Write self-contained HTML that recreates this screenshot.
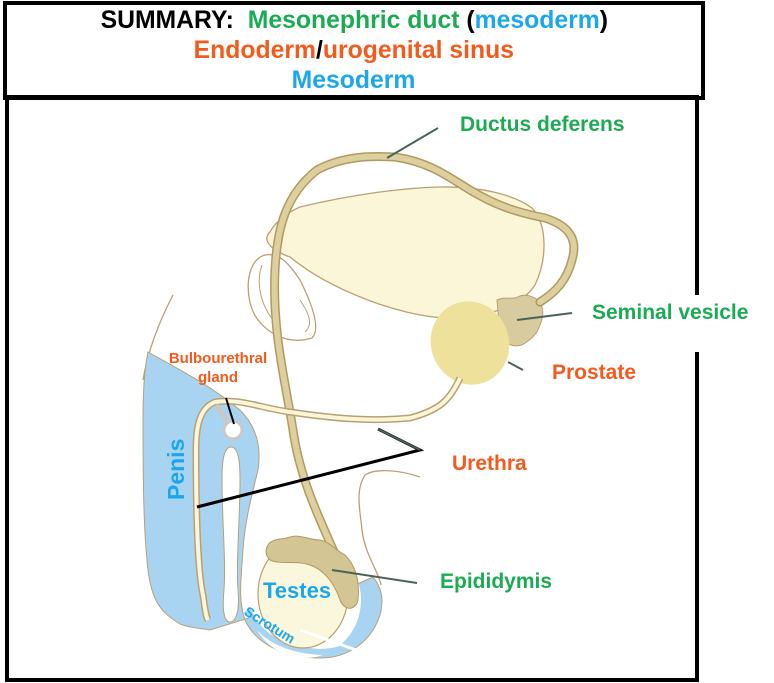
<!DOCTYPE html>
<html><head><meta charset="utf-8"><style>
html,body{margin:0;padding:0;background:#fff;}
body{width:774px;height:683px;position:relative;overflow:hidden;font-family:"Liberation Sans",Arial,sans-serif;}
.t{position:absolute;font-weight:bold;white-space:nowrap;}
</style></head><body>
<svg width="774" height="683" style="position:absolute;left:0;top:0">
<rect x="5" y="3" width="698" height="95" fill="none" stroke="#000" stroke-width="4"/>
<polyline points="697,295 697,97 7,97 7,680 697,680 697,352" fill="none" stroke="#000" stroke-width="4"/>

<path d="M173,295 C160,320 148,350 143,380" fill="none" stroke="#b9a074" stroke-width="1.3"/>
<path d="M420,477 C400,470 375,468 365,475 C355,490 360,510 362,530 C365,555 378,570 381,585" fill="none" stroke="#b9a074" stroke-width="1.3"/>

<path d="M300,207 C350,195 400,188 440,187 C480,186 515,195 532,208 C548,225 547,260 535,285 C522,305 490,318 445,318 C400,316 330,290 290,257 C270,250 262,240 270,232 C275,222 288,212 300,207Z" fill="#fbf6d8" stroke="#b9a074" stroke-width="1.3"/>
<path d="M265,255 C245,260 243,300 258,320 C270,335 290,345 312,338 C322,328 310,300 300,280 C290,265 280,252 265,255Z" fill="#fff" stroke="#b9a074" stroke-width="1.3"/>
<path d="M262,265 C255,285 262,310 278,325 M300,300 C310,315 313,325 305,332" fill="none" stroke="#b9a074" stroke-width="1"/>

<path d="M497,300 C505,296 512,300 518,297 C525,293 532,296 538,300 C545,308 543,318 540,325 C537,335 530,340 522,345 C512,348 505,343 500,335 Z" fill="#d8cba0" stroke="#b9a074" stroke-width="1"/>

<path d="M340,565 C320,520 300,480 293,430 C285,380 272,330 275,270 C277,230 285,195 317,170 C345,155 375,156 395,157 C430,162 450,178 470,190 C495,205 515,212 545,218 C570,226 578,240 572,260 C567,280 556,292 540,302" fill="none" stroke="#b09a60" stroke-width="9" stroke-linecap="round"/>
<path d="M340,565 C320,520 300,480 293,430 C285,380 272,330 275,270 C277,230 285,195 317,170 C345,155 375,156 395,157 C430,162 450,178 470,190 C495,205 515,212 545,218 C570,226 578,240 572,260 C567,280 556,292 540,302" fill="none" stroke="#ddcf9e" stroke-width="6" stroke-linecap="round"/>

<ellipse cx="470" cy="343" rx="39" ry="42" transform="rotate(-20 470 343)" fill="#ede19c"/>
<line x1="508" y1="362" x2="523" y2="370" stroke="#4a6358" stroke-width="2"/>

<path d="M148,352 C180,370 210,385 240,410 C255,425 262,445 258,470 C252,495 245,520 243,550 C241,580 238,600 245,620 C255,642 280,657 320,658 C350,658 372,640 380,615 C384,600 382,588 373,577 L355,585 L210,630 C200,628 190,628 180,624 C160,612 150,600 147,560 C143,520 143,460 143,420 C143,395 144,370 148,352Z" fill="#a8d4f2" stroke="#b9a074" stroke-width="1"/>
<ellipse cx="305" cy="600" rx="56" ry="58" fill="#fff"/>
<path d="M248,610 C260,640 290,650 320,652 C345,652 360,640 370,625" fill="none" stroke="#a8d4f2" stroke-width="6"/>
<path d="M231,447 C238,447 240,460 240,480 C240,520 236,560 238,590 C240,610 236,622 230,622 C224,622 222,610 224,590 C226,560 222,520 222,480 C222,460 224,447 231,447Z" fill="#fff" stroke="#b9a074" stroke-width="1"/>

<path d="M460,378 C450,400 440,410 410,418 C370,422 330,418 290,412 C260,408 240,398 215,402 C200,408 196,425 196,450 C196,500 197,560 202,590 C205,605 205,615 208,620" fill="none" stroke="#b9a074" stroke-width="7"/>
<path d="M460,378 C450,400 440,410 410,418 C370,422 330,418 290,412 C260,408 240,398 215,402 C200,408 196,425 196,450 C196,500 197,560 202,590 C205,605 205,615 208,620" fill="none" stroke="#fbf6d8" stroke-width="4"/>

<line x1="216" y1="405" x2="230" y2="425" stroke="#c8c8c8" stroke-width="5"/>
<circle cx="233" cy="430" r="9" fill="#fff" stroke="#c8c8c8" stroke-width="3"/>
<line x1="226" y1="398" x2="234" y2="424" stroke="#000" stroke-width="2"/>

<ellipse cx="303" cy="594" rx="45" ry="54" fill="#fbf7dc" stroke="#b9a074" stroke-width="1.2"/>
<path d="M268,545 C272,538 282,540 290,537 C300,534 310,540 320,540 C330,542 335,550 345,555 C355,565 360,580 358,600 C356,610 345,612 340,600 C335,585 325,570 310,565 C295,560 280,565 270,560 C265,555 265,550 268,545Z" fill="#d4c595" stroke="#b09a60" stroke-width="1"/>
<line x1="332" y1="570" x2="417" y2="583" stroke="#4a6358" stroke-width="2"/>
<line x1="300" y1="630" x2="370" y2="655" stroke="#fff" stroke-width="3"/>

<line x1="387" y1="158" x2="438" y2="128" stroke="#4a6358" stroke-width="2"/>
<line x1="517" y1="320" x2="572" y2="313" stroke="#4a6358" stroke-width="2"/>
<polyline points="378,429 420,450 197,507" fill="none" stroke="#000" stroke-width="3"/>
<line x1="378" y1="429" x2="420" y2="450" stroke="#4a6358" stroke-width="2"/>

<text x="184" y="500" transform="rotate(-90 184 500)" font-family="Liberation Sans" font-weight="bold" font-size="23" fill="#1ca6ec">Penis</text>
<text x="243" y="614" transform="rotate(32 243 614)" font-family="Liberation Sans" font-weight="bold" font-size="14" fill="#1ca6ec">Scrotum</text>
</svg>

<div class="t" style="left:0;width:708px;top:5px;text-align:center;font-size:25px;line-height:30px;">
<span style="display:inline-block;transform:scaleX(0.99)"><span style="color:#000">SUMMARY:</span>&nbsp; <span style="color:#1bab52">Mesonephric duct</span> <span style="color:#000">(</span><span style="color:#1ca6ec">mesoderm</span><span style="color:#000">)</span></span></div>
<div class="t" style="left:0;width:708px;top:35px;text-align:center;font-size:25px;line-height:30px;">
<span style="display:inline-block;transform:scaleX(0.99)"><span style="color:#f35a1c">Endoderm</span><span style="color:#000">/</span><span style="color:#f35a1c">urogenital sinus</span></span></div>
<div class="t" style="left:0;width:708px;top:65px;text-align:center;font-size:25px;line-height:30px;color:#1ca6ec">
<span style="display:inline-block;transform:scaleX(0.99)">Mesoderm</span></div>

<div class="t" style="left:460px;top:113px;font-size:21px;color:#1bab52">Ductus deferens</div>
<div class="t" style="left:592px;top:301px;font-size:21px;color:#1bab52">Seminal vesicle</div>
<div class="t" style="left:552px;top:361px;font-size:21px;color:#f35a1c">Prostate</div>
<div class="t" style="left:452px;top:452px;font-size:21px;color:#f35a1c">Urethra</div>
<div class="t" style="left:440px;top:570px;font-size:21px;color:#1bab52">Epididymis</div>
<div class="t" style="left:158px;top:349px;width:120px;text-align:center;font-size:15px;line-height:19px;color:#f35a1c">Bulbourethral<br>gland</div>
<div class="t" style="left:263px;top:578px;font-size:22px;color:#1ca6ec">Testes</div>
</body></html>
